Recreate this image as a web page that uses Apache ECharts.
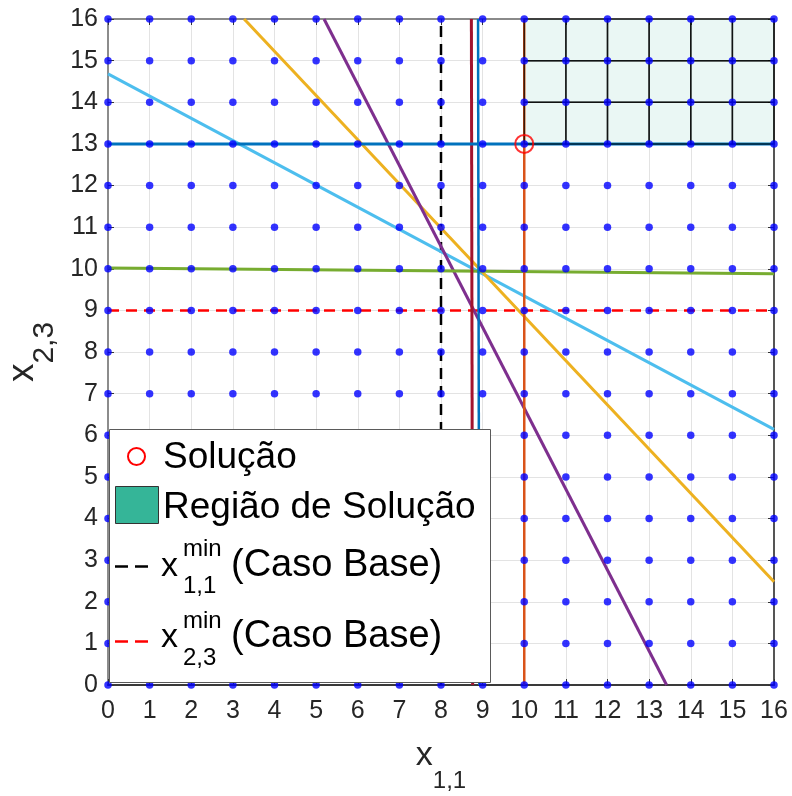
<!DOCTYPE html>
<html>
<head>
<meta charset="utf-8">
<script src="https://cdn.jsdelivr.net/npm/echarts@6/dist/echarts.min.js"></script>
<style>
html,body{margin:0;padding:0;background:#fff;}
#chart{width:792px;height:796px;}
</style>
</head>
<body>
<div id="chart"></div>
<script>
// ---- data ----
const xTicks = [0,1,2,3,4,5,6,7,8,9,10,11,12,13,14,15,16];
const yTicks = [0,1,2,3,4,5,6,7,8,9,10,11,12,13,14,15,16];

const lightBlueLine = [[0,14.68],[16,6.14]];
const yellowLine    = [[3.27,16],[16,2.48]];
const purpleLine    = [[5.19,16],[13.42,0]];
const greenLine     = [[0,10.02],[16,9.88]];
const crimsonLine   = [[8.73,16],[8.76,0]];
const blueVLine     = [[8.89,16],[8.92,0]];
const blueHLine     = [[0,13],[16,13]];
const orangeLine    = [[10,0],[10,16]];
const x11MinLine    = [[8,0],[8,16]];
const x23MinLine    = [[0,9],[16,9]];
const solutionPoint = [[10,13]];
const regionXEdges  = [10,11,12,13,14,15,16];
const regionYEdges  = [13,14,15,16];

// ---- derived tables ----
const gridDots = [];
xTicks.forEach(x => yTicks.forEach(y => gridDots.push([x, y])));
const regionCells = [];
for (let i = 0; i < regionXEdges.length - 1; i++) {
  for (let j = 0; j < regionYEdges.length - 1; j++) {
    regionCells.push([regionXEdges[i], regionYEdges[j], regionXEdges[i+1], regionYEdges[j+1]]);
  }
}

const FONT = '"Liberation Sans", Arial, Helvetica, sans-serif';
const chart = echarts.init(document.getElementById('chart'), null, {renderer: 'canvas'});

function lineSeries(data, color, width, dash, z) {
  return {
    type: 'line', data: data, showSymbol: false, symbol: 'none',
    lineStyle: {color: color, width: width, type: dash || 'solid'},
    z: z || 3, silent: true, animation: false
  };
}

const baseAxis = {
  min: 0, max: 16, interval: 1, type: 'value',
  axisTick: {show: true, inside: true, length: 6, lineStyle: {color: '#333', width: 1}},
  splitLine: {show: false},
  axisLabel: {show: false}
};

const option = {
  animation: false,
  backgroundColor: '#ffffff',
  grid: {left: 108, right: 18, top: 19, bottom: 111, containLabel: false, outerBoundsMode: 'none'},
  xAxis: [
    Object.assign({}, baseAxis, {
      position: 'bottom',
      axisLine: {show: true, onZero: false, lineStyle: {color: '#3a3a3a', width: 2}},
      splitLine: {show: true, lineStyle: {color: '#e3e3e3', width: 1}},
      axisLabel: {show: true, fontSize: 25, fontFamily: FONT, color: '#262626', margin: 14},
      name: '{a|x}{b|1,1}',
      nameLocation: 'middle',
      nameGap: 51,
      nameMoveOverlap: false,
      nameTextStyle: {
        fontFamily: FONT, color: '#262626',
        rich: {
          a: {fontSize: 34, fontFamily: FONT, color: '#262626', lineHeight: 40},
          b: {fontSize: 24, fontFamily: FONT, color: '#262626', lineHeight: 40, padding: [51, 0, 0, 0]}
        }
      }
    }),
    Object.assign({}, baseAxis, {
      position: 'top',
      axisLine: {show: true, onZero: false, lineStyle: {color: '#8a8a8a', width: 2}}
    })
  ],
  yAxis: [
    Object.assign({}, baseAxis, {
      position: 'left',
      axisLine: {show: true, onZero: false, lineStyle: {color: '#8c8c8c', width: 2}},
      splitLine: {show: true, lineStyle: {color: '#e3e3e3', width: 1}},
      axisLabel: {show: true, fontSize: 25, fontFamily: FONT, color: '#262626', margin: 10},
      name: '{a|x}{b|2,3}',
      nameLocation: 'middle',
      nameRotate: 90,
      nameGap: 63,
      nameMoveOverlap: false,
      nameTextStyle: {
        fontFamily: FONT, color: '#262626',
        rich: {
          a: {fontSize: 37, fontFamily: FONT, color: '#262626', lineHeight: 44},
          b: {fontSize: 30, fontFamily: FONT, color: '#262626', lineHeight: 44, padding: [44, 0, 0, 0]}
        }
      }
    }),
    Object.assign({}, baseAxis, {
      position: 'right',
      axisLine: {show: true, onZero: false, lineStyle: {color: '#555', width: 2}}
    })
  ],
  series: [
    lineSeries(x11MinLine, '#000000', 2.5, [11, 7], 3),
    lineSeries(x23MinLine, '#ff0000', 2.5, [11, 7], 3),
    lineSeries(lightBlueLine, '#4DBEEE', 3),
    lineSeries(yellowLine, '#EDB120', 3),
    lineSeries(purpleLine, '#7E2F8E', 3),
    lineSeries(greenLine, '#77AC30', 3),
    lineSeries(crimsonLine, '#A2142F', 3),
    lineSeries(blueVLine, '#0072BD', 2.5),
    lineSeries(blueHLine, '#0072BD', 3),
    lineSeries(orangeLine, '#D95319', 2.5),
    {
      type: 'custom',
      data: regionCells,
      z: 5, silent: true, animation: false,
      renderItem: function (params, api) {
        const p0 = api.coord([api.value(0), api.value(3)]);
        const p1 = api.coord([api.value(2), api.value(1)]);
        return {
          type: 'rect',
          shape: {x: p0[0], y: p0[1], width: p1[0] - p0[0], height: p1[1] - p0[1]},
          style: {fill: 'rgba(53,181,151,0.1)', stroke: 'rgba(0,0,0,0.72)', lineWidth: 1.5}
        };
      }
    },
    {
      type: 'scatter', data: gridDots, symbol: 'circle', symbolSize: 7.5,
      itemStyle: {color: '#0000ff'}, z: 10, silent: true, animation: false
    },
    {
      type: 'scatter', data: solutionPoint, symbol: 'circle', symbolSize: 18,
      itemStyle: {color: 'rgba(0,0,0,0)', borderColor: '#ff0000', borderWidth: 2},
      z: 11, silent: true, animation: false
    }
  ],
  graphic: [
    {type: 'rect', z: 100, shape: {x: 109.5, y: 429.5, width: 381, height: 253},
     style: {fill: '#ffffff', stroke: '#5a5a5a', lineWidth: 1}},
    {type: 'circle', z: 101, shape: {cx: 136.5, cy: 456.5, r: 8.5},
     style: {fill: 'none', stroke: '#ff0000', lineWidth: 2}},
    {type: 'text', z: 101, x: 163, y: 457.5,
     style: {text: 'Solução', font: '37px ' + FONT, fill: '#000', verticalAlign: 'middle', align: 'left'}},
    {type: 'rect', z: 101, shape: {x: 115.5, y: 486.5, width: 43, height: 37},
     style: {fill: '#35B598', stroke: '#333', lineWidth: 1}},
    {type: 'text', z: 101, x: 163, y: 507.5,
     style: {text: 'Região de Solução', font: '37px ' + FONT, fill: '#000', verticalAlign: 'middle', align: 'left'}},
    // row 3
    {type: 'line', z: 101, shape: {x1: 115, y1: 566.5, x2: 149, y2: 566.5},
     style: {stroke: '#000', lineWidth: 2.5, lineDash: [13, 7]}},
    {type: 'text', z: 101, x: 161, y: 566.5,
     style: {text: 'x', font: '34px ' + FONT, fill: '#000', verticalAlign: 'middle', align: 'left'}},
    {type: 'text', z: 101, x: 183, y: 549.5,
     style: {text: 'min', font: '24px ' + FONT, fill: '#000', verticalAlign: 'middle', align: 'left'}},
    {type: 'text', z: 101, x: 183, y: 586.7,
     style: {text: '1,1', font: '24px ' + FONT, fill: '#000', verticalAlign: 'middle', align: 'left'}},
    {type: 'text', z: 101, x: 231, y: 565.5,
     style: {text: '(Caso Base)', font: '38px ' + FONT, fill: '#000', verticalAlign: 'middle', align: 'left'}},
    // row 4
    {type: 'line', z: 101, shape: {x1: 115, y1: 641.5, x2: 149, y2: 641.5},
     style: {stroke: '#ff0000', lineWidth: 2.5, lineDash: [13, 7]}},
    {type: 'text', z: 101, x: 161, y: 638,
     style: {text: 'x', font: '34px ' + FONT, fill: '#000', verticalAlign: 'middle', align: 'left'}},
    {type: 'text', z: 101, x: 183, y: 621,
     style: {text: 'min', font: '24px ' + FONT, fill: '#000', verticalAlign: 'middle', align: 'left'}},
    {type: 'text', z: 101, x: 183, y: 658.7,
     style: {text: '2,3', font: '24px ' + FONT, fill: '#000', verticalAlign: 'middle', align: 'left'}},
    {type: 'text', z: 101, x: 231, y: 637,
     style: {text: '(Caso Base)', font: '38px ' + FONT, fill: '#000', verticalAlign: 'middle', align: 'left'}}
  ]
};
chart.setOption(option);
</script>
</body>
</html>
